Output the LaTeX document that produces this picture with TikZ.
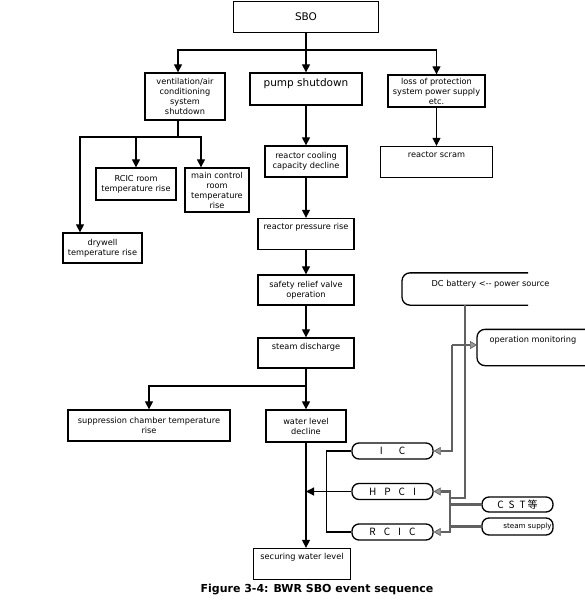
\documentclass[tikz,border=0pt]{standalone}
\usepackage{fontspec}
\setmainfont{DejaVu Sans}
\newfontfamily\cjk{Noto Sans CJK SC}
\usetikzlibrary{arrows.meta}

\begin{document}
\begin{tikzpicture}[x=1pt,y=-1pt,>={Triangle[length=8pt,width=8pt]},
  box/.style={draw,line width=1.3pt,align=center,inner sep=1pt,font=\fontsize{8.2}{10}\selectfont},
  topbox/.style={box,text height=10pt,text depth=19pt},
  openbox/.style={box,draw=none,anchor=west},
  pill/.style={draw,line width=1.3pt,rounded corners=7pt,inner sep=0pt,font=\cjk\fontsize{10}{11}\selectfont},
  flow/.style={line width=1.2pt},
  outline/.style={line width=1.3pt,rounded corners=8pt},
  feed/.style={line width=2.8pt,draw=black!62},
  feedtip/.style={-{Triangle[length=7pt,width=8pt,fill=black!40,color=black!65,line width=0.6pt]}}]
\clip (0,0) rectangle (585,600);
% event boxes
\node[box,minimum width=145pt,minimum height=31pt,font=\fontsize{10.5}{12}\selectfont] (sbo) at (306,17) {SBO};
\node[box,minimum width=80pt,minimum height=47pt] (vent) at (185,96.5) {ventilation/air\\conditioning\\system\\shutdown};
\node[topbox,minimum width=112pt,text height=12pt,text depth=18pt,font=\fontsize{10.5}{12}\selectfont] (pump) at (306,89) {pump shutdown};
\node[box,minimum width=97pt,minimum height=32pt] (loss) at (436.5,91) {loss of protection\\system power supply\\etc.};
\node[box,minimum width=80pt,minimum height=32pt] (rcicroom) at (136,184) {RCIC room\\temperature rise};
\node[box,minimum width=64pt,minimum height=44pt] (mcr) at (217,190) {main control\\room\\temperature\\rise};
\node[box,minimum width=79pt,minimum height=30pt] (drywell) at (102.5,248) {drywell\\temperature rise};
\node[box,minimum width=82pt,minimum height=31pt] (cooling) at (306,161.5) {reactor cooling\\capacity decline};
\node[topbox,minimum width=112pt] (scram) at (436.5,162) {reactor scram};
\node[topbox,minimum width=96pt] (pressure) at (306,234) {reactor pressure rise};
\node[box,minimum width=96pt,minimum height=30pt] (safety) at (306,290) {safety relief valve\\operation};
\node[topbox,minimum width=96pt,text depth=18pt] (steam) at (306,353) {steam discharge};
\node[box,minimum width=162pt,minimum height=31pt] (supp) at (149,425.5) {suppression chamber temperature\\rise};
\node[box,minimum width=80pt,minimum height=32pt] (water) at (306,426) {water level\\decline};
\node[topbox,minimum width=97pt] (secure) at (302,564) {securing water level};
% power side, open on the right
\node[openbox,inner xsep=29pt,text height=12pt,text depth=17pt] (battery) at (402,289) {DC battery <{-}{-} power source};
\draw[outline] ([xshift=126pt]battery.north west) -- (battery.north west) -- (battery.south west) -- ([xshift=126pt]battery.south west);
\node[openbox,inner xsep=12pt,text height=11pt,text depth=22pt] (monitor) at (477,347.5) {operation monitoring};
\draw[outline] ([xshift=120pt]monitor.north west) -- (monitor.north west) -- (monitor.south west) -- ([xshift=120pt]monitor.south west);
\node[pill,minimum width=81pt,minimum height=16pt] (ic) at (392.5,451) {I\hspace{16pt}C};
\node[pill,minimum width=81pt,minimum height=16pt] (hpci) at (392.5,491.5) {H\hspace{8pt}P\hspace{8pt}C\hspace{8pt}I};
\node[pill,minimum width=81pt,minimum height=16pt] (rcic) at (392.5,532) {R\hspace{8pt}C\hspace{8pt}I\hspace{8pt}C};
\node[pill,minimum width=71pt,minimum height=15pt] (cst) at (517.5,504.5) {C\hspace{5pt}S\hspace{5pt}T\hspace{2pt}等};
\node[pill,minimum width=71pt,minimum height=17pt,font=\fontsize{7.2}{8}\selectfont] (steamsup) at (517.5,526.5) {\hspace*{20pt}steam supply};
\node[font=\bfseries\fontsize{11}{13}\selectfont] (caption) at (317,590) {Figure 3-4: BWR SBO event sequence};
% SBO branches
\coordinate (s1) at (306,50);
\draw[flow] (sbo) -- (s1);
\draw[flow,->] (s1) -| ([xshift=-7pt]vent.north);
\draw[flow,->] (s1) -- (pump);
\draw[flow,->] (s1) -| (loss);
% ventilation branches
\coordinate (v1) at (178,137);
\draw[flow] (vent.south -| v1) -- (v1);
\draw[flow,->] (v1) -| ([xshift=-22.5pt]drywell.north);
\draw[flow,->] (v1) -| (rcicroom);
\draw[flow,->] (v1) -| ([xshift=-16pt]mcr.north);
% main chain
\draw[flow,->] (pump) -- (cooling);
\draw[flow,->] (loss) -- (scram);
\draw[flow,->] (cooling) -- (pressure);
\draw[flow,->] (pressure) -- (safety);
\draw[flow,->] (safety) -- (steam);
\coordinate (d1) at (306,386);
\draw[flow] (steam) -- (d1);
\draw[flow,->] (d1) -| (supp);
\draw[flow,->] (d1) -- (water);
\draw[flow,->] (water) -- (water |- secure.north);
% injection systems
\draw[flow,->] (hpci) -- (hpci -| water);
\draw[flow] (ic.west) -- ++(-25,0) |- (rcic.west);
% power feed
\coordinate (p1) at (452,345);
\coordinate (p2) at (450,505);
\coordinate (p3) at (450,498);
\draw[feed] ([xshift=63pt]battery.south west) |- (p3);
\draw[feed,feedtip] (p1) -- (p1 -| monitor.west);
\draw[feed,feedtip] (p1) |- (ic);
\draw[feed,feedtip] (p2) |- (hpci);
\draw[feed,feedtip] (p2) |- (rcic);
\draw[feed] (cst) -- (cst -| p2);
\draw[feed] (steamsup) -- (steamsup -| p2);
\end{tikzpicture}
\end{document}
